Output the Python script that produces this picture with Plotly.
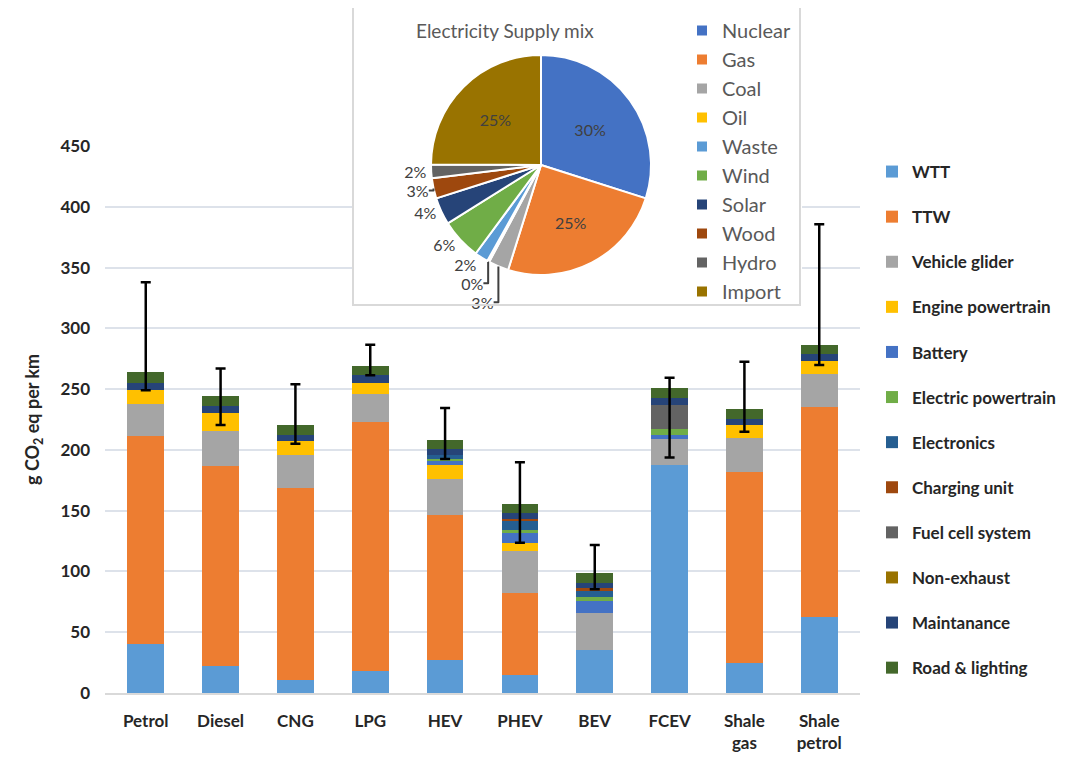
import plotly.graph_objects as go

# ---------------- data ----------------
categories = ["Petrol", "Diesel", "CNG", "LPG", "HEV", "PHEV", "BEV", "FCEV",
              "Shale<br>gas", "Shale<br>petrol"]

wtt = [40, 22, 11, 18, 27, 15, 35, 187.5, 24.4, 62.3]
ttw = [171.5, 165, 157.5, 205, 119.5, 67, 0, 0, 157.6, 172.7]
vehicle_glider = [26, 28.5, 27, 23, 29.3, 34.5, 30.5, 21.5, 27.5, 27.2]
engine_powertrain = [12, 14.5, 11.5, 9, 11.8, 7, 0, 0, 11, 11.2]
battery = [0, 0, 0, 0, 3, 8.5, 10.5, 3.2, 0, 0]
electric_powertrain = [0, 0, 0, 0, 2, 2.5, 2.7, 4.7, 0, 0]
electronics = [0, 0, 0, 0, 3.5, 7.5, 5.2, 0, 0, 0]
charging_unit = [0, 0, 0, 0, 0, 1, 2.2, 0, 0, 0]
fuel_cell_system = [0, 0, 0, 0, 0, 0, 0, 20, 0, 0]
non_exhaust = [0, 0, 0, 0, 0, 0, 0, 0, 0, 0]
maintanance = [5.5, 6, 5, 6.5, 4.4, 5.3, 4.6, 5.5, 5, 5.5]
road_lighting = [9, 8, 8.5, 7.5, 7.6, 7.2, 8.3, 8.2, 8.2, 7.4]

err_low = [249, 220.5, 205, 261.5, 192.5, 123.7, 85.3, 193.8, 215, 269.8]
err_high = [338, 267, 254, 286.5, 234.5, 189.8, 121.7, 259.4, 272.5, 385.6]

series_names = ["WTT", "TTW", "Vehicle glider", "Engine powertrain", "Battery",
                "Electric powertrain", "Electronics", "Charging unit",
                "Fuel cell system", "Non-exhaust", "Maintanance", "Road & lighting"]
series_values = [wtt, ttw, vehicle_glider, engine_powertrain, battery,
                 electric_powertrain, electronics, charging_unit,
                 fuel_cell_system, non_exhaust, maintanance, road_lighting]
series_colors = ["#5B9BD5", "#ED7D31", "#A5A5A5", "#FFC000", "#4472C4", "#70AD47",
                 "#255E91", "#9E480E", "#636363", "#997300", "#264478", "#43682B"]

pie_labels = ["Nuclear", "Gas", "Coal", "Oil", "Waste", "Wind", "Solar", "Wood",
              "Hydro", "Import"]
pie_values = [30, 25, 3, 0.3, 2, 6, 4, 3, 2, 25]
pie_colors = ["#4472C4", "#ED7D31", "#A5A5A5", "#FFC000", "#5B9BD5", "#70AD47",
              "#264478", "#9E480E", "#636363", "#997300"]
pie_textpos = ["inside", "inside", "outside", "outside", "outside", "outside",
               "outside", "outside", "outside", "inside"]

# ---------------- geometry helpers (reference pixel -> paper) ----------------
W, H = 1087, 757
OFF = 8                      # page body margin offset
ML, MR, MB = 105 - OFF, 235, 72
MT = 0
PW, PH = W - ML - MR, H - MT - MB
PLOT_TOP = 146               # reference pixel y of bar plot top
PLOT_BOTTOM = 693            # reference pixel y of bar plot bottom


def px(xr):
    return (xr - OFF - ML) / PW


def py(yr):
    return (H - MB - (yr - OFF)) / PH


FONT = "Lato"

fig = go.Figure()

for name, vals, col in zip(series_names, series_values, series_colors):
    fig.add_trace(go.Bar(
        x=categories, y=vals, name=name, marker=dict(color=col, line=dict(width=0)),
        legendgroup=name, legend="legend", hoverinfo="skip",
    ))

totals = [sum(v) for v in zip(*series_values)]
fig.add_trace(go.Scatter(
    x=categories, y=totals, mode="markers", marker=dict(opacity=0, size=1),
    showlegend=False, hoverinfo="skip",
    error_y=dict(type="data", symmetric=False,
                 array=[h - t for h, t in zip(err_high, totals)],
                 arrayminus=[t - l for t, l in zip(totals, err_low)],
                 color="black", thickness=2.5, width=5),
))

fig.add_trace(go.Pie(
    labels=pie_labels, values=pie_values, sort=False, direction="clockwise",
    marker=dict(colors=pie_colors, line=dict(color="white", width=2)),
    textposition=pie_textpos, texttemplate="%{percent:.0%}",
    insidetextorientation="horizontal",
    textfont=dict(family=FONT, size=16, color="#404040"),
    domain=dict(x=[px(421), px(661)], y=[py(275), py(55)]),
    legend="legend2", hoverinfo="skip",
))

fig.update_layout(
    width=W, height=H,
    margin=dict(l=ML, r=MR, t=MT, b=MB, autoexpand=False),
    barmode="stack", bargap=0.51,
    plot_bgcolor="white", paper_bgcolor="white",
    font=dict(family=FONT, color="#262626"),
    xaxis=dict(showgrid=False, showline=True, linecolor="#D9D9D9", linewidth=1.5,
               ticks="", ticklabelstandoff=12, automargin=False,
               tickfont=dict(family=FONT, size=17, weight="bold", color="#262626")),
    yaxis=dict(domain=[0, py(PLOT_TOP)], range=[0, 450], dtick=50, automargin=False,
               showgrid=True, gridcolor="#DDE2EA", gridwidth=1.5,
               zeroline=False, showline=False, ticks="", ticklabelstandoff=14,
               tickfont=dict(family=FONT, size=17, weight="bold", color="#262626")),
    legend=dict(x=px(872), y=py(154), xanchor="left", yanchor="top",
                traceorder="grouped", tracegroupgap=20,
                font=dict(family=FONT, size=17, weight="bold", color="#262626"),
                bgcolor="rgba(0,0,0,0)"),
    legend2=dict(x=px(682), y=py(11), xanchor="left", yanchor="top",
                 font=dict(family=FONT, size=20, color="#595959"),
                 bgcolor="rgba(0,0,0,0)"),
    shapes=[
        dict(type="rect", xref="x", yref="y",
             x0=2.77, x1=8.77, y0=318, y1=470,
             fillcolor="white", line=dict(width=0), layer="between"),
        dict(type="rect", xref="paper", yref="paper",
             x0=px(353), x1=px(800), y0=py(305), y1=py(2),
             fillcolor="rgba(0,0,0,0)", line=dict(color="#D9D9D9", width=2),
             layer="above"),
    ],
    annotations=[
        dict(text="Electricity Supply mix", xref="paper", yref="paper",
             x=px(505), y=py(30), xanchor="center", yanchor="middle", showarrow=False,
             font=dict(family=FONT, size=19, color="#595959")),
        dict(text="g CO<sub>2</sub> eq per km", xref="paper", yref="paper",
             x=px(33), y=py(420), xanchor="center", yanchor="middle",
             showarrow=False, textangle=-90,
             font=dict(family=FONT, size=18, weight="bold", color="#262626")),
    ],
)

fig.write_html("out.html")
